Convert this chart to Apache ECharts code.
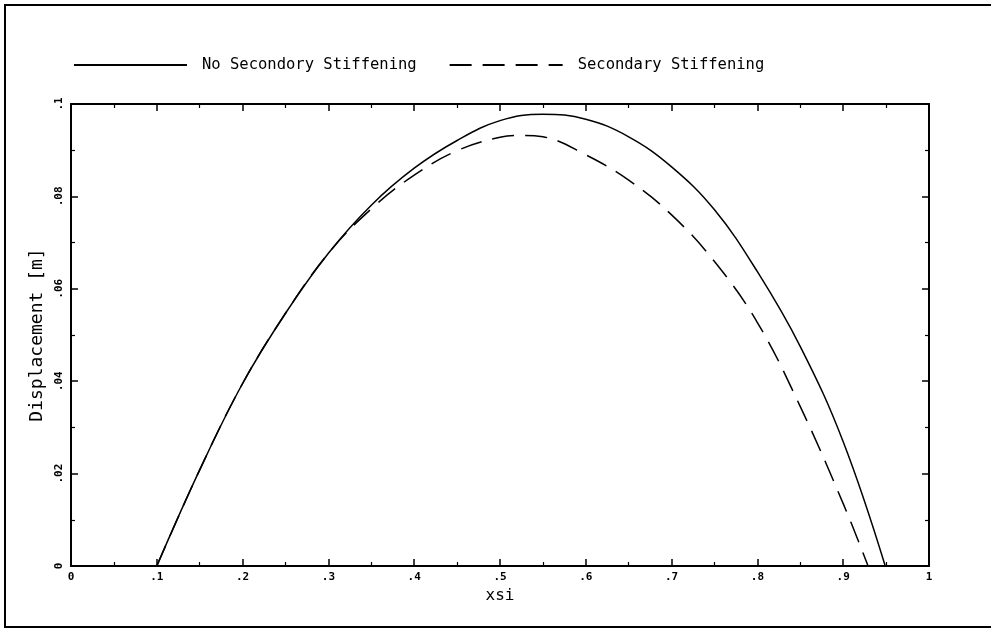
<!DOCTYPE html>
<html>
<head>
<meta charset="utf-8">
<script src="https://cdn.jsdelivr.net/npm/echarts@6/dist/echarts.min.js"></script>
<style>
  html, body { margin: 0; padding: 0; background: #fff; }
  #chart { width: 991px; height: 629px; }
</style>
</head>
<body>
<div id="chart"></div>
<script>
// values
var seriesNames = ['No Secondory Stiffening', 'Secondary Stiffening'];

var xsiNoStiff = [0.10, 0.15, 0.20, 0.25, 0.30, 0.35, 0.40, 0.45, 0.50, 0.55, 0.60, 0.65, 0.70, 0.75, 0.80, 0.85, 0.90, 0.949];
var dispNoStiff = [0, 0.0208, 0.0395, 0.0547, 0.0677, 0.0781, 0.0861, 0.0921, 0.0964, 0.0978, 0.0967, 0.0929, 0.0864, 0.0771, 0.0637, 0.0475, 0.0269, 0];

var xsiStiff = [0.10, 0.15, 0.20, 0.25, 0.30, 0.35, 0.40, 0.45, 0.50, 0.525, 0.55, 0.60, 0.65, 0.70, 0.75, 0.80, 0.85, 0.90, 0.929];
var dispStiff = [0, 0.0208, 0.0395, 0.0547, 0.0677, 0.0773, 0.0846, 0.0899, 0.0928, 0.0932, 0.0929, 0.0890, 0.0835, 0.0760, 0.0659, 0.0527, 0.0345, 0.0135, 0];

var xTicks = [0, 0.1, 0.2, 0.3, 0.4, 0.5, 0.6, 0.7, 0.8, 0.9, 1];
var yTicks = [0, 0.02, 0.04, 0.06, 0.08, 0.1];

function pairs(xs, ys) {
  return xs.map(function (x, i) { return [x, ys[i]]; });
}

// plotter style labels: ".1" instead of "0.1"
function shortLabel(v) {
  var s = String(Math.round(v * 100) / 100);
  return s.indexOf('0.') === 0 ? s.slice(1) : s;
}

var font = 'DejaVu Sans Mono';
var ink = '#000';
var dash = [22, 11];

var chart = echarts.init(document.getElementById('chart'), null, { renderer: 'canvas' });

var tickCommon = {
  axisLine: { show: true, onZero: false, lineStyle: { color: ink, width: 2 } },
  axisTick: { show: true, inside: true, length: 7, lineStyle: { color: ink, width: 1.5 } },
  minorTick: { show: true, splitNumber: 2, length: 4, lineStyle: { color: ink, width: 1.2 } },
  splitLine: { show: false },
  minorSplitLine: { show: false }
};

var option = {
  animation: false,
  backgroundColor: '#fff',
  legend: {
    data: seriesNames,
    left: 68,
    top: 52,
    itemWidth: 113,
    itemHeight: 16,
    itemGap: 32,
    itemStyle: { opacity: 0 },
    textStyle: { fontFamily: font, fontSize: 15.5, color: ink, padding: [0, 0, 0, 10] }
  },
  grid: { left: 71, top: 104, width: 858, height: 462 },
  xAxis: [
    Object.assign({
      type: 'value', min: 0, max: 1, interval: 0.1, position: 'bottom',
      name: 'xsi', nameLocation: 'middle', nameGap: 22,
      nameTextStyle: { fontFamily: font, fontSize: 16, color: ink },
      axisLabel: {
        fontFamily: font, fontSize: 11, fontWeight: 'bold', color: ink, margin: 6,
        customValues: xTicks, formatter: shortLabel
      }
    }, tickCommon),
    Object.assign({
      type: 'value', min: 0, max: 1, interval: 0.1, position: 'top',
      axisLabel: { show: false }
    }, tickCommon)
  ],
  yAxis: [
    Object.assign({
      type: 'value', min: 0, max: 0.1, interval: 0.02, position: 'left',
      name: 'Displacement [m]', nameLocation: 'middle', nameGap: 17, nameRotate: 90,
      nameTextStyle: { fontFamily: font, fontSize: 18, color: ink },
      axisLabel: {
        fontFamily: font, fontSize: 11, fontWeight: 'bold', color: ink, margin: 6, rotate: 90,
        customValues: yTicks, formatter: shortLabel
      }
    }, tickCommon),
    Object.assign({
      type: 'value', min: 0, max: 0.1, interval: 0.02, position: 'right',
      axisLabel: { show: false }
    }, tickCommon)
  ],
  graphic: [{
    type: 'rect',
    shape: { x: 5, y: 5, width: 1020, height: 622 },
    style: { fill: 'none', stroke: ink, lineWidth: 2 },
    silent: true
  }],
  series: [
    {
      name: seriesNames[0], type: 'line', smooth: 0.4, symbol: 'none',
      data: pairs(xsiNoStiff, dispNoStiff),
      lineStyle: { color: ink, width: 1.5, type: 'solid' },
      itemStyle: { color: ink }
    },
    {
      name: seriesNames[1], type: 'line', smooth: 0.4, symbol: 'none',
      data: pairs(xsiStiff, dispStiff),
      lineStyle: { color: ink, width: 1.5, type: dash },
      itemStyle: { color: ink }
    }
  ]
};

chart.setOption(option);
</script>
</body>
</html>
